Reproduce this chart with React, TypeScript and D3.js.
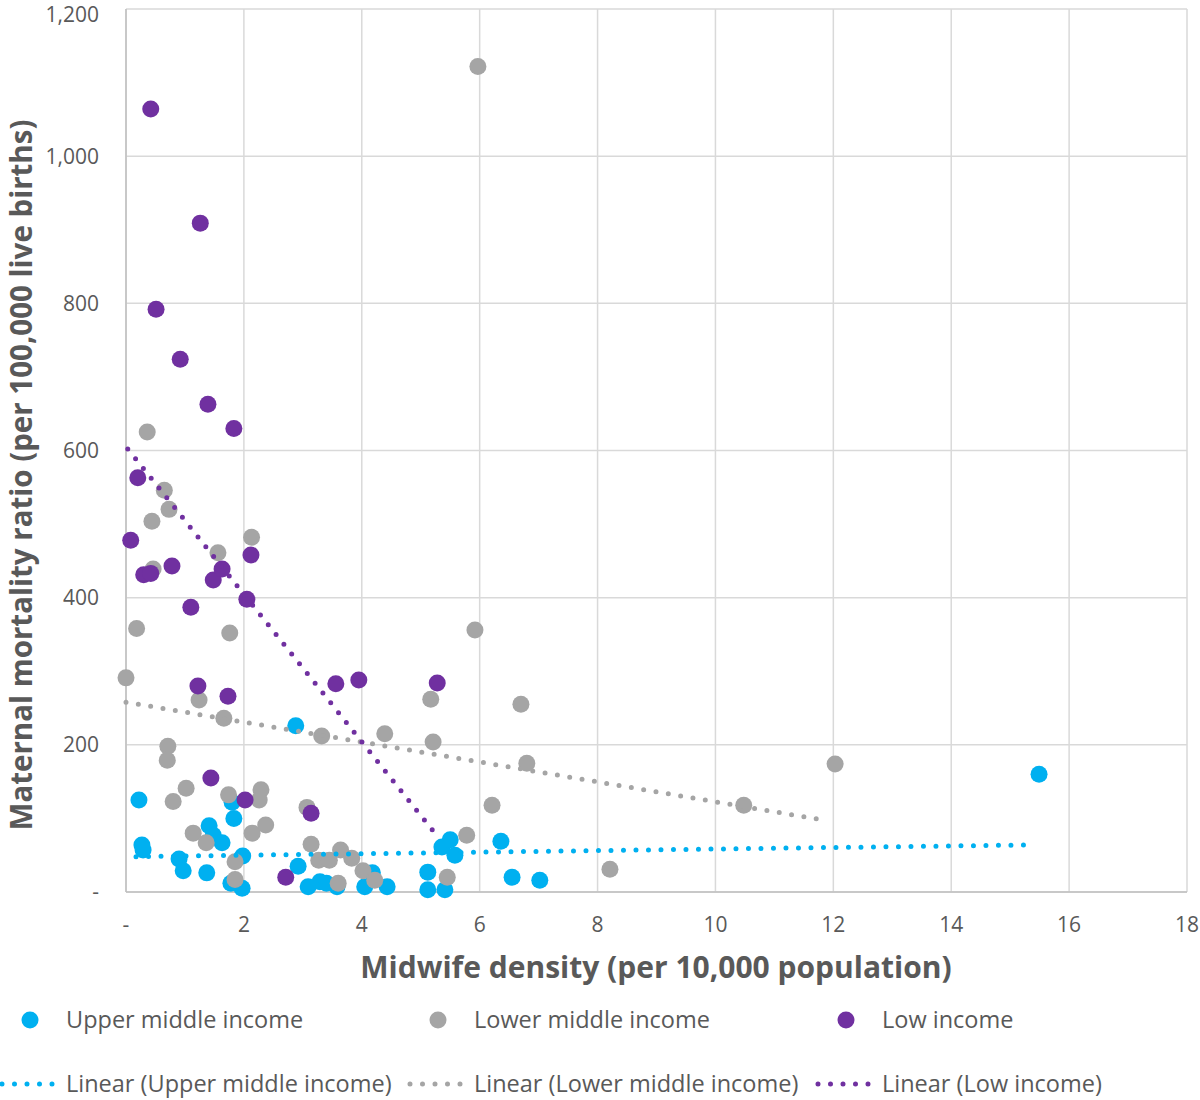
import * as d3 from "d3";

// Midwife density (x) vs maternal mortality ratio (y)
const upperMiddle: [number, number][] = [
  [0.22, 125], [0.27, 64], [0.29, 57], [0.9, 45], [0.97, 29], [1.37, 26],
  [1.41, 90], [1.48, 77], [1.63, 67], [1.8, 122], [1.83, 100], [1.98, 49],
  [1.78, 12], [1.97, 5], [2.88, 226], [2.92, 35], [3.09, 7], [3.29, 14],
  [3.4, 12], [3.58, 7], [4.05, 7], [4.18, 26], [4.43, 7], [5.12, 27],
  [5.12, 3], [5.41, 3], [5.36, 61], [5.5, 71], [5.58, 50], [6.36, 69],
  [6.55, 20], [7.02, 16], [15.49, 160],
];

const lowerMiddle: [number, number][] = [
  [0.0, 291], [0.36, 625], [0.65, 546], [0.73, 520], [0.44, 504], [0.46, 439],
  [0.18, 358], [1.56, 461], [2.13, 482], [1.76, 352], [5.97, 1122], [5.92, 356],
  [5.17, 262], [6.7, 255], [5.21, 204], [6.8, 175], [12.03, 174], [10.48, 118],
  [6.21, 118], [5.78, 77], [8.21, 31], [5.45, 20], [4.39, 215], [3.32, 212],
  [1.24, 261], [1.66, 236], [0.71, 198], [0.7, 179], [0.8, 123], [1.02, 141],
  [1.74, 132], [2.29, 139], [2.26, 125], [1.14, 80], [1.36, 67], [2.14, 80],
  [2.37, 91], [1.85, 41], [1.85, 17], [3.07, 115], [3.14, 65], [3.27, 43],
  [3.45, 43], [3.64, 57], [3.83, 46], [4.02, 29], [4.22, 16], [3.6, 12],
];

const lowIncome: [number, number][] = [
  [0.42, 1064], [1.26, 909], [0.51, 792], [0.92, 724], [1.39, 663], [1.83, 630],
  [0.2, 563], [0.08, 478], [0.78, 443], [0.3, 431], [0.42, 433], [1.48, 424],
  [1.63, 439], [2.12, 458], [1.1, 387], [2.05, 398], [1.22, 280], [1.73, 266],
  [1.44, 155], [2.02, 125], [3.14, 107], [2.71, 20], [3.56, 283], [3.95, 288],
  [5.28, 284],
];

// trendline end points as drawn
const trendUpper: [number, number][] = [[0.17, 48], [15.33, 64]];
const trendLower: [number, number][] = [[0.0, 258], [11.89, 97]];
const trendLow: [number, number][] = [[0.03, 602], [5.28, 76]];

const xTicks = [0, 2, 4, 6, 8, 10, 12, 14, 16, 18];
const yTicks = [0, 200, 400, 600, 800, 1000, 1200];

const series = [
  { name: "Upper middle income", color: "#00B0F0", points: upperMiddle, trend: trendUpper },
  { name: "Lower middle income", color: "#A5A5A5", points: lowerMiddle, trend: trendLower },
  { name: "Low income", color: "#7030A0", points: lowIncome, trend: trendLow },
];

const W = 1200;
const H = 1100;
const FONT = "'Open Sans', sans-serif";
const TEXT = "#595959";

export default function App() {
  const x = d3.scaleLinear().domain([0, 18]).range([126, 1187]);
  const y = d3.scaleLinear().domain([0, 1200]).range([892, 9]);
  const line = d3
    .line<[number, number]>()
    .x((d) => x(d[0]))
    .y((d) => y(d[1]));
  const fmt = (v: number) => (v === 0 ? "-" : d3.format(",")(v));

  const legendX = [30, 438, 846];

  return (
    <svg width={W} height={H} style={{ display: "block", fontFamily: FONT }}>
      <style>{`body{margin:0}`}</style>
      <rect width={W} height={H} fill="#fff" />

      {/* grid */}
      {xTicks.map((t) => (
        <line key={"gx" + t} x1={x(t)} x2={x(t)} y1={y(0)} y2={y(1200)} stroke="#D9D9D9" strokeWidth={1.5} />
      ))}
      {yTicks.map((t) => (
        <line key={"gy" + t} x1={x(0)} x2={x(18)} y1={y(t)} y2={y(t)} stroke="#D9D9D9" strokeWidth={1.5} />
      ))}
      <line x1={x(0)} x2={x(0)} y1={y(0)} y2={y(1200)} stroke="#BFBFBF" strokeWidth={1.5} />
      <line x1={x(0)} x2={x(18)} y1={y(0)} y2={y(0)} stroke="#BFBFBF" strokeWidth={1.5} />

      {/* tick labels */}
      {yTicks.map((t) => (
        <text key={"ty" + t} x={99} y={Math.max(y(t), 15)} dy="0.35em" textAnchor="end" fontSize={21} fill={TEXT}>
          {fmt(t)}
        </text>
      ))}
      {xTicks.map((t) => (
        <text key={"tx" + t} x={x(t)} y={925} dy="0.35em" textAnchor="middle" fontSize={21} fill={TEXT}>
          {fmt(t)}
        </text>
      ))}

      {/* axis titles */}
      <text x={656} y={967} dy="0.35em" textAnchor="middle" fontSize={30} fontWeight="bold" fill={TEXT}>
        Midwife density (per 10,000 population)
      </text>
      <text
        transform={`translate(22,475) rotate(-90)`}
        dy="0.35em"
        textAnchor="middle"
        fontSize={29.5}
        fontWeight="bold"
        fill={TEXT}
      >
        Maternal mortality ratio (per 100,000 live births)
      </text>

      {/* points */}
      {series.map((s) => (
        <g key={s.name}>
          {s.points.map((p, i) => (
            <circle key={i} cx={x(p[0])} cy={y(p[1])} r={8.5} fill={s.color} />
          ))}
        </g>
      ))}

      {/* trendlines */}
      {series.map((s) => (
        <path
          key={"tr" + s.name}
          d={line(s.trend) || ""}
          fill="none"
          stroke={s.color}
          strokeWidth={5}
          strokeLinecap="round"
          strokeDasharray="0 12.5"
        />
      ))}

      {/* legend */}
      {series.map((s, i) => (
        <g key={"lg" + s.name}>
          <circle cx={legendX[i]} cy={1020} r={8.5} fill={s.color} />
          <text x={legendX[i] + 36} y={1020} dy="0.35em" fontSize={23.5} fill={TEXT}>
            {s.name}
          </text>
          <line
            x1={legendX[i] - 28}
            x2={legendX[i] + 30}
            y1={1084}
            y2={1084}
            stroke={s.color}
            strokeWidth={5}
            strokeLinecap="round"
            strokeDasharray="0 12.5"
          />
          <text x={legendX[i] + 36} y={1084} dy="0.35em" fontSize={23.5} fill={TEXT}>
            {`Linear (${s.name})`}
          </text>
        </g>
      ))}
    </svg>
  );
}
